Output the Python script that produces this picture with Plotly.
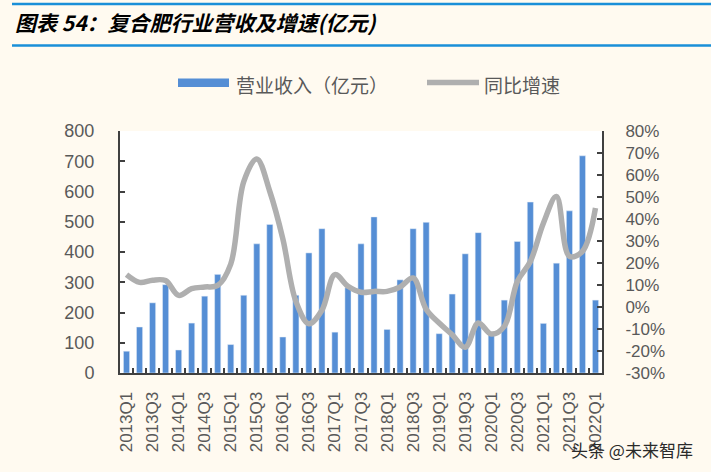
import plotly.graph_objects as go

quarters = ["2013Q1", "2013Q2", "2013Q3", "2013Q4", "2014Q1", "2014Q2", "2014Q3", "2014Q4",
            "2015Q1", "2015Q2", "2015Q3", "2015Q4", "2016Q1", "2016Q2", "2016Q3", "2016Q4",
            "2017Q1", "2017Q2", "2017Q3", "2017Q4", "2018Q1", "2018Q2", "2018Q3", "2018Q4",
            "2019Q1", "2019Q2", "2019Q3", "2019Q4", "2020Q1", "2020Q2", "2020Q3", "2020Q4",
            "2021Q1", "2021Q2", "2021Q3", "2021Q4", "2022Q1"]
revenue = [72, 152, 232, 292, 76, 165, 254, 326, 94, 257, 427, 491, 119, 257, 397, 477,
           135, 282, 427, 516, 144, 308, 477, 498, 130, 261, 394, 464, 125, 241, 435, 565,
           164, 363, 536, 718, 241]
growth_pct = [14.7, 11.2, 12.2, 12.0, 5.3, 8.3, 9.1, 9.8, 19.5, 57.0, 67.3, 52.5, 31.0, 2.6,
              -7.6, -1.5, 14.7, 9.4, 6.7, 7.1, 7.1, 9.1, 13.2, -1.0, -7.3, -12.6, -18.3, -7.3,
              -12.3, -8.8, 11.6, 20.7, 38.1, 50.2, 23.0, 25.3, 45.0]
left_ticks = [0, 100, 200, 300, 400, 500, 600, 700, 800]
right_ticks = [-30, -20, -10, 0, 10, 20, 30, 40, 50, 60, 70, 80]

title_text = "图表 54：复合肥行业营收及增速(亿元)"
legend_bar = "营业收入（亿元）"
legend_line = "同比增速"
watermark = "头条 @未来智库"

BAR_COLOR = "#558ED5"
LINE_COLOR = "#AFAFAF"
AXIS_COLOR = "#404040"
TEXT_COLOR = "#595959"
BG = "#FFFAF0"

W, H = 711, 472
L, R, T, B = 120, 109, 131, 99
PW, PH = W - L - R, H - T - B


def xp(px):
    return (px - L) / PW


def yp(py):
    return (H - B - py) / PH


idx = list(range(len(quarters)))
growth = [g / 100 for g in growth_pct]

fig = go.Figure()
fig.add_trace(go.Bar(x=idx, y=revenue, name=legend_bar, marker_color=BAR_COLOR,
                     width=0.47, showlegend=False))
fig.add_trace(go.Scatter(x=idx, y=growth, name=legend_line, yaxis="y2", mode="lines",
                         line=dict(color=LINE_COLOR, width=5.5, shape="spline", smoothing=1.0),
                         showlegend=False))

tick_font = dict(family="Liberation Sans, Arial", size=18, color=TEXT_COLOR)

fig.update_layout(
    width=W, height=H, autosize=False,
    margin=dict(l=L, r=R, t=T, b=B, pad=0),
    paper_bgcolor=BG, plot_bgcolor="white",
    showlegend=False,
    xaxis=dict(
        range=[-0.5, len(quarters) - 0.5],
        tickvals=idx[::2], ticktext=quarters[::2], tickangle=-90,
        ticks="", showgrid=False, zeroline=False,
        showline=True, linecolor=AXIS_COLOR, linewidth=2,
        tickfont=dict(family="Liberation Sans, Arial", size=17, color=TEXT_COLOR),
        ticklabelstandoff=10,
        minor=dict(tickvals=[i + 0.5 for i in idx[:-1]], ticks="inside", ticklen=5,
                   tickwidth=2, tickcolor=AXIS_COLOR, showgrid=False),
    ),
    yaxis=dict(
        range=[0, 800], tickvals=left_ticks, ticks="inside", ticklen=5, tickwidth=2,
        tickcolor=AXIS_COLOR, showgrid=False, zeroline=False,
        showline=True, linecolor=AXIS_COLOR, linewidth=2,
        tickfont=tick_font, ticklabelstandoff=20,
    ),
    yaxis2=dict(
        range=[-0.3, 0.8], tickvals=[t / 100 for t in right_ticks],
        ticktext=[f"{t}%" for t in right_ticks],
        overlaying="y", side="right", ticks="inside", ticklen=5, tickwidth=2,
        tickcolor=AXIS_COLOR, showgrid=False, zeroline=False,
        showline=True, linecolor=AXIS_COLOR, linewidth=2,
        tickfont=dict(family="Liberation Sans, Arial", size=17, color=TEXT_COLOR),
        ticklabelstandoff=18,
    ),
    shapes=[
        dict(type="line", xref="paper", yref="paper", x0=xp(12), x1=xp(711), y0=yp(4), y1=yp(4),
             line=dict(color="#1A8FD8", width=2.5)),
        dict(type="line", xref="paper", yref="paper", x0=xp(12), x1=xp(711), y0=yp(45.5), y1=yp(45.5),
             line=dict(color="#1A8FD8", width=2.5)),
        dict(type="rect", xref="paper", yref="paper", x0=xp(178), x1=xp(229), y0=yp(87), y1=yp(78.5),
             fillcolor=BAR_COLOR, line=dict(width=0)),
        dict(type="line", xref="paper", yref="paper", x0=xp(427), x1=xp(479), y0=yp(82.5), y1=yp(82.5),
             line=dict(color=LINE_COLOR, width=5.5)),
    ],
    annotations=[
        dict(text=f"<b><i>{title_text}</i></b>", xref="paper", yref="paper", x=xp(13), y=yp(22),
             xanchor="left", yanchor="middle", showarrow=False,
             font=dict(family="Noto Sans CJK SC", size=21, color="black")),
        dict(text=legend_bar, xref="paper", yref="paper", x=xp(234), y=yp(84),
             xanchor="left", yanchor="middle", showarrow=False,
             font=dict(family="Noto Sans CJK SC", size=19, color=TEXT_COLOR)),
        dict(text=legend_line, xref="paper", yref="paper", x=xp(482), y=yp(84),
             xanchor="left", yanchor="middle", showarrow=False,
             font=dict(family="Noto Sans CJK SC", size=19, color=TEXT_COLOR)),
        dict(text=watermark, xref="paper", yref="paper", x=xp(632), y=yp(449),
             xanchor="center", yanchor="middle", showarrow=False,
             font=dict(family="Noto Sans CJK SC", size=17, color="#2A2A2A")),
    ],
)

fig.write_html("out.html")
